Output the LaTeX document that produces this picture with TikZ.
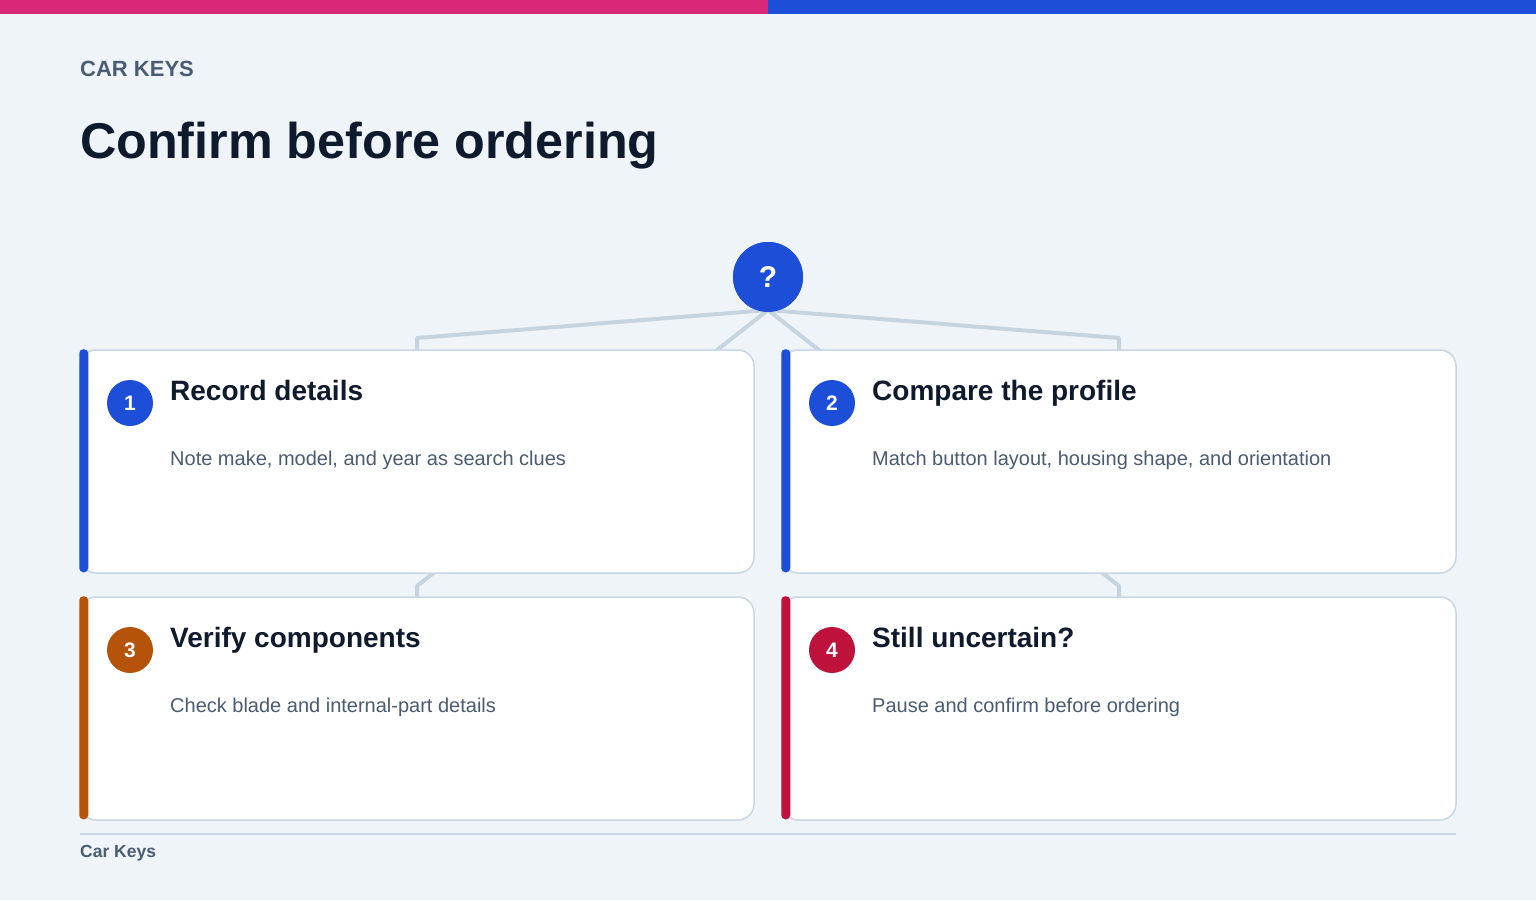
\documentclass[tikz,border=0pt]{standalone}
\usepackage{fontspec}
\setmainfont{Liberation Sans}
\definecolor{bgc}{HTML}{EFF4F9}
\definecolor{pinkc}{HTML}{DB2777}
\definecolor{bluec}{HTML}{1D4ED8}
\definecolor{orangec}{HTML}{B45309}
\definecolor{redc}{HTML}{BE123C}
\definecolor{titlec}{HTML}{0F1B2D}
\definecolor{grayc}{HTML}{4A5B72}
\definecolor{linec}{HTML}{C6D4E0}
\definecolor{borderc}{HTML}{C9D6E3}
\tikzset{
  conn/.style={draw=linec, line width=4pt, line join=round},
  card/.style={draw=borderc, line width=1.5pt, fill=white, rounded corners=16pt, minimum width=674pt, minimum height=223pt, inner sep=0pt},
  numc/.style={circle, minimum size=46pt, inner sep=0pt, text=white, font=\fontsize{21}{24}\selectfont\bfseries},
  ttl/.style={anchor=base west, inner sep=0pt, text=titlec, font=\fontsize{28}{32}\selectfont\bfseries},
  dsc/.style={anchor=base west, inner sep=0pt, text=grayc, font=\fontsize{20}{24}\selectfont},
}
\begin{document}
\begin{tikzpicture}[x=1pt,y=-1pt]
\fill[bgc] (0,0) rectangle (1536,900);
\useasboundingbox (0,0) rectangle (1536,900);
\fill[pinkc] (0,0) rectangle (768,14);
\fill[bluec] (768,0) rectangle (1536,14);
\node[anchor=base west, inner sep=0pt, text=grayc, font=\fontsize{22}{26}\selectfont\bfseries] (kicker) at (80,76) {CAR KEYS};
\node[anchor=base west, inner sep=0pt, text=titlec, font=\fontsize{50.3}{58}\selectfont\bfseries] (head) at (80,158) {Confirm before ordering};
% hub
\node[circle, fill=bluec, minimum size=70pt, inner sep=0pt] (q) at (768,277) {};
\coordinate (qs) at (768,310);
\coordinate (e1) at (417,338);
\coordinate (e2) at (1119,338);
\coordinate (e3) at (417,586);
\coordinate (e4) at (1119,586);
\coordinate (t1) at (417,352);
\coordinate (t2) at (1119,352);
\coordinate (t3) at (417,599);
\coordinate (t4) at (1119,599);
\draw[conn] (qs) -- (e1) -- (t1);
\draw[conn] (qs) -- (e2) -- (t2);
\draw[conn] (qs) -- (e3) -- (t3);
\draw[conn] (qs) -- (e4) -- (t4);
\node[circle, fill=bluec, minimum size=70pt, inner sep=0pt, text=white, font=\fontsize{30}{34}\selectfont\bfseries] (q) at (768,277) {?};
% cards
\node[card] (c1) at (417,461.5) {};
\node[card] (c2) at (1119,461.5) {};
\node[card] (c3) at (417,708.5) {};
\node[card] (c4) at (1119,708.5) {};
\fill[bluec, rounded corners=4pt] (c1.north west) rectangle ++(9,223);
\fill[bluec, rounded corners=4pt] (c2.north west) rectangle ++(9,223);
\fill[orangec, rounded corners=4pt] (c3.north west) rectangle ++(9,223);
\fill[redc, rounded corners=4pt] (c4.north west) rectangle ++(9,223);
% numbers
\node[numc, fill=bluec] (n1) at (130,403) {1};
\node[numc, fill=bluec] (n2) at (832,403) {2};
\node[numc, fill=orangec] (n3) at (130,650) {3};
\node[numc, fill=redc] (n4) at (832,650) {4};
% titles
\node[ttl] (h1) at (170,400) {Record details};
\node[ttl] (h2) at (872,400) {Compare the profile};
\node[ttl] (h3) at (170,647) {Verify components};
\node[ttl] (h4) at (872,647) {Still uncertain?};
\node[dsc] (d1) at (170,465) {Note make, model, and year as search clues};
\node[dsc] (d2) at (872,465) {Match button layout, housing shape, and orientation};
\node[dsc] (d3) at (170,712) {Check blade and internal-part details};
\node[dsc] (d4) at (872,712) {Pause and confirm before ordering};
% footer
\coordinate (fl) at (80,834);
\coordinate (fr) at (1456,834);
\draw[borderc, line width=1.5pt] (fl) -- (fr);
\node[anchor=base west, inner sep=0pt, text=grayc, font=\fontsize{17.5}{20}\selectfont\bfseries] (foot) at (80,857) {Car Keys};
\end{tikzpicture}
\end{document}
